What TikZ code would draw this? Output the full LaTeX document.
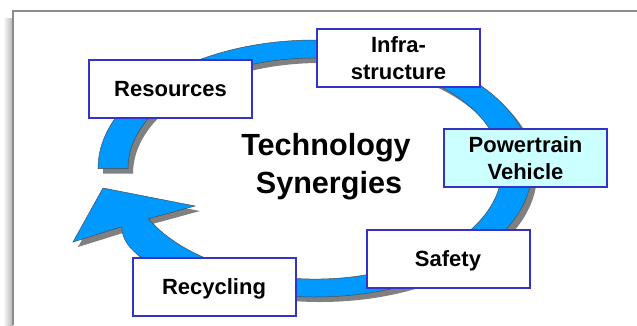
\documentclass[tikz,border=0pt]{standalone}
\usepackage{fontspec}
\setmainfont{Liberation Sans}
\definecolor{ringblue}{RGB}{0,153,255}
\definecolor{boxblue}{RGB}{51,51,204}
\definecolor{pwfill}{RGB}{204,255,255}
\definecolor{framegray}{RGB}{140,140,140}
\begin{document}
\begin{tikzpicture}[x=1pt,y=-1pt,
  box/.style={draw=boxblue, line width=2pt, fill=white, minimum width=163pt,
    minimum height=58pt, inner sep=0pt, align=center,
    font=\fontsize{22}{27}\selectfont\bfseries},
  oneline/.style={text height=15.75pt, text depth=0pt},
  titletext/.style={font=\fontsize{30.6}{36}\selectfont\bfseries, anchor=base, inner sep=0pt},
  ringshape/.style={fill=ringblue, draw=black!70, line width=0.5pt},
  ringshadow/.style={fill=black!50}]
\useasboundingbox (0,0) rectangle (637,325);
\fill[white] (0,0) rectangle (637,325);
% frame with soft left shadow
\shade[left color=white, right color=black!30] (3,18) rectangle (13,325);
\draw[framegray, line width=1.5pt] (13,325) -- (13,11) -- (637,11);
% ring
\def\ringpath{(98,168.5) arc[start angle=180, end angle=480, x radius=217, y radius=128.5]
  .. controls (150,270) and (122,250) .. (121.7,226.8)
  -- (73,242) -- (103,188) -- (195,206) -- (148.4,218.7)
  arc[start angle=513, end angle=180, x radius=187, y radius=110.5] -- cycle}
\begin{scope}[shift={(5,5)}]
\fill[ringshadow] \ringpath;
\end{scope}
\filldraw[ringshape] \ringpath;
% boxes
\node[box, oneline] (res) at (170.5,89) {Resources};
\node[box] (infra) at (398.5,58) {Infra-\\structure};
\node[box, fill=pwfill] (pt) at (525.5,158) {Powertrain\\Vehicle};
\node[box, oneline] (safe) at (448,258.5) {Safety};
\node[box, oneline] (rec) at (214,286.5) {Recycling};
% title
\node[titletext] (t1) at (326,155) {Technology};
\node[titletext] (t2) at (329,193) {Synergies};
\end{tikzpicture}
\end{document}
